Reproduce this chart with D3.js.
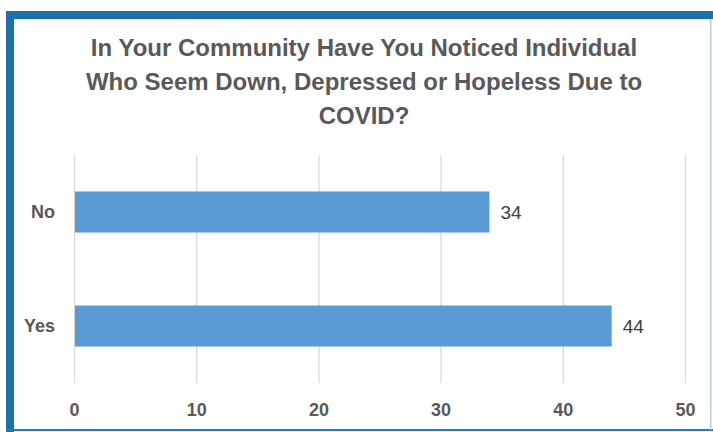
<!DOCTYPE html>
<html><head><meta charset="utf-8">
<script src="https://cdn.jsdelivr.net/npm/d3@7"></script>
<style>body{margin:0;background:#fff;} svg{display:block;}</style>
</head><body>
<script>
const categories = ["No", "Yes"];
const values = [34, 44];
const tickValues = [0, 10, 20, 30, 40, 50];
const titleLines = ["In Your Community Have You Noticed Individual", "Who Seem Down, Depressed or Hopeless Due to", "COVID?"];

const W = 713, H = 432;
const svg = d3.select("body").append("svg").attr("width", W).attr("height", H);
const font = "'Liberation Sans Narrow', 'Arial Narrow', 'Liberation Sans', sans-serif";

// frame
svg.append("rect").attr("x", 0).attr("y", 0).attr("width", W).attr("height", H).attr("fill", "#fff");
svg.append("rect").attr("x", 6).attr("y", 11).attr("width", W - 6).attr("height", 8).attr("fill", "#1a72a6");
svg.append("rect").attr("x", 6).attr("y", 11).attr("width", 8).attr("height", H - 11).attr("fill", "#1a72a6");
svg.append("rect").attr("x", 6).attr("y", 429).attr("width", W - 6).attr("height", 2).attr("fill", "#2a7aab");
svg.append("rect").attr("x", 710).attr("y", 19).attr("width", 1.5).attr("height", 411).attr("fill", "#b9cedb");
svg.append("rect").attr("x", 14).attr("y", 19).attr("width", 696).attr("height", 1).attr("fill", "#d6e6f0");

const x = d3.scaleLinear().domain([0, 50]).range([74, 685]);
const y = d3.scaleBand().domain(categories).range([155, 383]).paddingInner(0.64).paddingOuter(0.32);

// title
svg.append("g").selectAll("text").data(titleLines).join("text")
  .attr("x", 364).attr("y", (d, i) => 56 + i * 34)
  .attr("text-anchor", "middle")
  .attr("font-family", font).attr("font-weight", "bold").attr("font-size", 24)
  .attr("fill", "#595959").text(d => d);

// gridlines
svg.append("g").selectAll("line").data(tickValues).join("line")
  .attr("x1", d => x(d) + 0.5).attr("x2", d => x(d) + 0.5)
  .attr("y1", 155).attr("y2", 383)
  .attr("stroke", "#d9d9d9").attr("stroke-width", 1.3);

// x axis labels
const xAxis = d3.axisBottom(x).tickValues(tickValues).tickSize(0).tickPadding(0);
const gx = svg.append("g").attr("transform", "translate(0,407)").call(xAxis);
gx.select(".domain").remove();
gx.selectAll("text").attr("font-family", font).attr("font-weight", "bold").attr("font-size", 18).attr("fill", "#595959").attr("dy", "0.5em");

// y axis labels
const yAxis = d3.axisLeft(y).tickSize(0).tickPadding(0);
const gy = svg.append("g").attr("transform", "translate(55,0)").call(yAxis);
gy.select(".domain").remove();
gy.selectAll("text").attr("font-family", font).attr("font-weight", "bold").attr("font-size", 18).attr("fill", "#595959");

// bars
svg.append("g").selectAll("rect").data(values).join("rect")
  .attr("x", x(0) + 1).attr("y", (d, i) => y(categories[i]))
  .attr("width", d => x(d) - x(0) - 1).attr("height", y.bandwidth())
  .attr("fill", "#5b9bd5");

// value labels
svg.append("g").selectAll("text").data(values).join("text")
  .attr("x", d => x(d) + 11).attr("y", (d, i) => y(categories[i]) + y.bandwidth() / 2)
  .attr("dy", "0.35em")
  .attr("font-family", font).attr("font-size", 19).attr("fill", "#404040")
  .text(d => d);
</script>
</body></html>
